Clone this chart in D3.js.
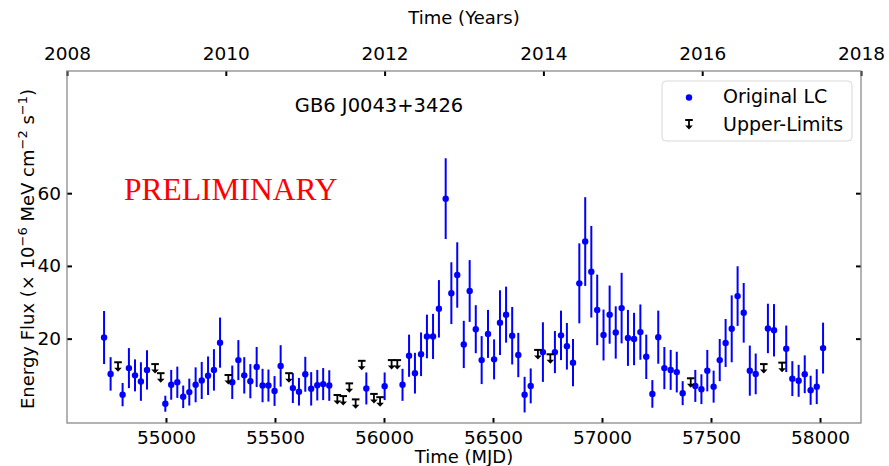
<!DOCTYPE html>
<html>
<head>
<meta charset="utf-8">
<script src="https://cdn.jsdelivr.net/npm/d3@7/dist/d3.min.js"></script>
<style>
  body { margin: 0; background: #fff; }
  svg text { font-family: "DejaVu Sans", sans-serif; }
</style>
</head>
<body>
<div id="grafico"></div>
<script>
// Curva de luz (detecciones): MJD, flujo y error
const mjdLC = [54716, 54746, 54801, 54830, 54858, 54885, 54913, 54997, 55024, 55052,
  55079, 55107, 55136, 55164, 55193, 55220, 55248, 55304, 55332, 55359,
  55387, 55416, 55443, 55470, 55498, 55526, 55582, 55610, 55639, 55666,
  55694, 55721, 55749, 55919, 56003, 56085, 56115, 56142, 56170, 56197,
  56225, 56252, 56283, 56309, 56336, 56366, 56393, 56421, 56448, 56477,
  56505, 56532, 56560, 56588, 56616, 56645, 56673, 56729, 56784, 56812,
  56839, 56867, 56896, 56923, 56951, 56978, 57007, 57035, 57063, 57090,
  57119, 57147, 57176, 57203, 57231, 57258, 57286, 57315, 57343, 57370,
  57428, 57456, 57483, 57512, 57540, 57567, 57595, 57622, 57650, 57678,
  57705, 57761, 57789, 57845, 57873, 57902, 57930, 57957, 57985, 58014];
const flujoLC = [20.3, 10.3, 4.6, 11.9, 9.9, 8.2, 11.4, 2.1, 7.3, 8.0,
  4.0, 5.3, 7.3, 8.5, 9.8, 11.4, 18.9, 8.0, 14.1, 9.9,
  8.3, 12.2, 7.1, 7.1, 5.6, 12.5, 6.4, 5.4, 10.2, 6.2,
  7.2, 7.5, 7.1, 6.3, 6.9, 7.3, 15.3, 10.5, 15.7, 20.6,
  20.6, 28.2, 58.5, 32.5, 37.5, 18.4, 33.1, 22.6, 14.1, 21.3,
  14.3, 24.4, 26.6, 20.8, 15.5, 4.6, 7.0, 16.3, 16.3, 20.9,
  17.9, 13.4, 35.2, 46.7, 38.4, 27.9, 21.0, 26.6, 21.7, 28.4,
  20.2, 19.9, 21.8, 15.0, 4.8, 20.4, 11.9, 11.4, 10.8, 5.0,
  7.0, 6.1, 11.2, 6.8, 14.1, 18.8, 22.7, 31.7, 27.1, 11.2,
  10.3, 22.8, 22.3, 17.2, 9.0, 8.4, 10.2, 5.8, 6.8, 17.4];
const errorLC = [7.3, 4.6, 3.2, 5.5, 4.4, 5.3, 5.4, 2.2, 4.1, 4.3,
  3.1, 3.7, 4.8, 5.1, 5.3, 5.7, 6.9, 4.6, 5.5, 5.0,
  4.7, 5.5, 4.6, 4.4, 4.1, 5.7, 4.1, 3.8, 4.8, 4.6,
  4.2, 4.4, 4.2, 4.4, 3.8, 4.4, 5.8, 5.6, 6.0, 6.0,
  6.2, 7.9, 11.1, 8.5, 9.0, 6.5, 8.5, 6.6, 6.6, 6.6,
  5.5, 8.9, 7.7, 7.9, 6.1, 4.9, 4.8, 8.2, 5.8, 6.8,
  6.4, 6.5, 11.0, 12.2, 12.6, 9.7, 7.0, 8.0, 7.2, 9.7,
  7.7, 7.2, 7.6, 6.1, 3.8, 7.3, 5.8, 5.5, 5.6, 3.3,
  4.4, 4.1, 5.7, 4.4, 5.8, 6.6, 9.2, 8.2, 8.2, 6.9,
  5.6, 6.8, 7.2, 6.4, 4.8, 4.4, 5.2, 4.0, 4.8, 7.0];

// Limites superiores
const mjdUL = [54780, 54950, 54976, 55286, 55564, 55786, 55813, 55841, 55870, 55898,
  55954, 55982, 56035, 56061, 56706, 56763, 57407, 57742, 57826];
const flujoUL = [13.5, 13.0, 10.5, 10.0, 10.5, 4.5, 4.2, 7.7, 3.3, 13.9,
  4.8, 3.9, 14.1, 14.1, 16.9, 15.7, 9.1, 13.0, 13.4];

// Marcas de los ejes
const ticksMJD = [55000, 55500, 56000, 56500, 57000, 57500, 58000];
const ticksAnio = [2008, 2010, 2012, 2014, 2016, 2018];
const ticksFlujo = [20, 40, 60];

const ancho = 889, alto = 466;
const margen = { top: 71, right: 28, bottom: 43, left: 67 };
const azul = "#0000ff";

const svg = d3.select("#grafico").append("svg")
  .attr("width", ancho)
  .attr("height", alto);

const x = d3.scaleLinear().domain([54546, 58188]).range([margen.left, ancho - margen.right]);
const xAnio = d3.scaleLinear().domain([2008, 2018]).range([margen.left, ancho - margen.right]);
const y = d3.scaleLinear().domain([-3.2, 93.6]).range([alto - margen.bottom, margen.top]);

const x0 = margen.left, x1 = ancho - margen.right;
const y0 = margen.top, y1 = alto - margen.bottom;

// Eje inferior (MJD), marcas hacia dentro
const ejeX = svg.append("g")
  .attr("transform", `translate(0,${y1})`)
  .call(d3.axisBottom(x).tickValues(ticksMJD).tickSize(-5).tickPadding(8).tickFormat(d3.format("d")));

// Eje superior (años)
const ejeAnio = svg.append("g")
  .attr("transform", `translate(0,${y0})`)
  .call(d3.axisTop(xAnio).tickValues(ticksAnio).tickSize(-5).tickPadding(11).tickFormat(d3.format("d")));

// Eje izquierdo y derecho
const ejeY = svg.append("g")
  .attr("transform", `translate(${x0},0)`)
  .call(d3.axisLeft(y).tickValues(ticksFlujo).tickSize(-5).tickPadding(6));
const ejeYDer = svg.append("g")
  .attr("transform", `translate(${x1},0)`)
  .call(d3.axisRight(y).tickValues(ticksFlujo).tickSize(-5).tickFormat(""));

[ejeX, ejeAnio, ejeY, ejeYDer].forEach(g => {
  g.select(".domain").remove();
  g.selectAll(".tick line").attr("stroke", "#000").attr("stroke-width", 2);
  g.selectAll(".tick text").attr("font-size", 18.5).attr("fill", "#000")
    .style("font-family", "DejaVu Sans");
});

// Marco
svg.append("rect")
  .attr("x", x0).attr("y", y0)
  .attr("width", x1 - x0).attr("height", y1 - y0)
  .attr("fill", "none")
  .attr("stroke", "#808080")
  .attr("stroke-width", 1.2);

// Barras de error
svg.append("g").selectAll("line")
  .data(mjdLC)
  .enter().append("line")
  .attr("x1", (d) => x(d))
  .attr("x2", (d) => x(d))
  .attr("y1", (d, i) => y(flujoLC[i] - errorLC[i]))
  .attr("y2", (d, i) => y(flujoLC[i] + errorLC[i]))
  .attr("stroke", azul)
  .attr("stroke-width", 2);

// Puntos
svg.append("g").selectAll("circle")
  .data(mjdLC)
  .enter().append("circle")
  .attr("cx", (d) => x(d))
  .attr("cy", (d, i) => y(flujoLC[i]))
  .attr("r", 3.2)
  .attr("fill", azul);

// Simbolo de limite superior: barra arriba y flecha hacia abajo
const dibujarUL = (g, cx, cy) => {
  g.append("line")
    .attr("x1", cx - 3.8).attr("x2", cx + 3.8)
    .attr("y1", cy).attr("y2", cy)
    .attr("stroke", "#000").attr("stroke-width", 2);
  g.append("line")
    .attr("x1", cx).attr("x2", cx)
    .attr("y1", cy).attr("y2", cy + 7)
    .attr("stroke", "#000").attr("stroke-width", 1.8);
  g.append("path")
    .attr("d", `M${cx - 3.8},${cy + 5.5} L${cx + 3.8},${cy + 5.5} L${cx},${cy + 9.5} Z`)
    .attr("fill", "#000");
};

const grupoUL = svg.append("g");
mjdUL.forEach((d, i) => dibujarUL(grupoUL, x(d), y(flujoUL[i])));

// Titulo del objeto
svg.append("text")
  .attr("x", 379).attr("y", 112)
  .attr("text-anchor", "middle")
  .attr("font-size", 19.5)
  .style("fill", "#000")
  .text("GB6 J0043+3426");

// Marca de agua
svg.append("text")
  .attr("x", 124).attr("y", 200)
  .attr("font-size", 31.5)
  .style("font-family", "'Liberation Serif', 'Times New Roman', serif")
  .style("fill", "#ff0000")
  .text("PRELIMINARY");

// Etiquetas de ejes
svg.append("text")
  .attr("x", (x0 + x1) / 2).attr("y", 463)
  .attr("text-anchor", "middle")
  .attr("font-size", 18)
  .style("fill", "#000")
  .text("Time (MJD)");

svg.append("text")
  .attr("x", (x0 + x1) / 2).attr("y", 24)
  .attr("text-anchor", "middle")
  .attr("font-size", 18)
  .style("fill", "#000")
  .text("Time (Years)");

const etiquetaY = svg.append("text")
  .attr("transform", `translate(34,${(y0 + y1) / 2 + 2}) rotate(-90)`)
  .attr("text-anchor", "middle")
  .attr("font-size", 18)
  .style("fill", "#000");
etiquetaY.append("tspan").text("Energy Flux (\u00d7 10");
etiquetaY.append("tspan").attr("font-size", 13).attr("dy", -7).text("\u22126");
etiquetaY.append("tspan").attr("dy", 7).text(" MeV cm");
etiquetaY.append("tspan").attr("font-size", 13).attr("dy", -7).text("\u22122");
etiquetaY.append("tspan").attr("dy", 7).text(" s");
etiquetaY.append("tspan").attr("font-size", 13).attr("dy", -7).text("\u22121");
etiquetaY.append("tspan").attr("dy", 7).text(")");

// Leyenda
const leyenda = svg.append("g");
leyenda.append("rect")
  .attr("x", 662).attr("y", 81)
  .attr("width", 190).attr("height", 60)
  .attr("rx", 4)
  .attr("fill", "#fff").attr("fill-opacity", 0.8)
  .attr("stroke", "#d9d9d9");
leyenda.append("circle")
  .attr("cx", 689).attr("cy", 97.5)
  .attr("r", 3.2).attr("fill", azul);
leyenda.append("text")
  .attr("x", 723).attr("y", 103)
  .attr("font-size", 19)
  .style("fill", "#000")
  .text("Original LC");
dibujarUL(leyenda, 689, 120);
leyenda.append("text")
  .attr("x", 723).attr("y", 131)
  .attr("font-size", 19)
  .style("fill", "#000")
  .text("Upper-Limits");
</script>
</body>
</html>
